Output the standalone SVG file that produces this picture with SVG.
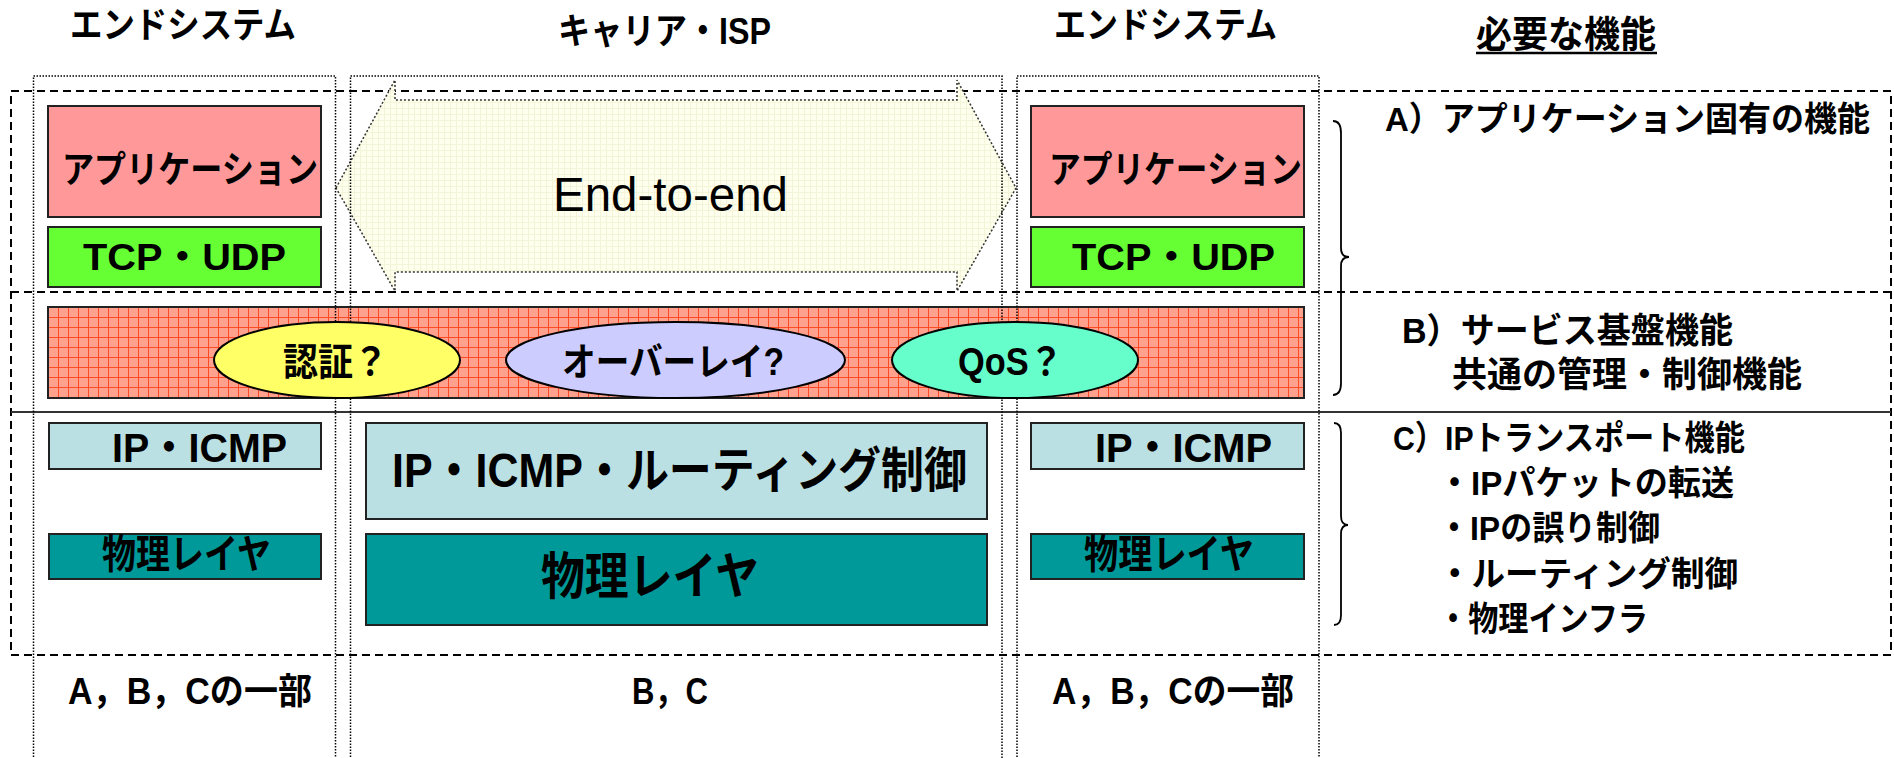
<svg xmlns="http://www.w3.org/2000/svg" width="1894" height="758" viewBox="0 0 1894 758">
<style>
.t{font-family:"Liberation Sans","Noto Sans CJK JP",sans-serif;font-weight:bold;fill:#000;dominant-baseline:central}
.n{font-family:"Liberation Sans","Noto Sans CJK JP",sans-serif;fill:#000;dominant-baseline:central}
.box{stroke:#222;stroke-width:2}
.dash{fill:none;stroke:#000;stroke-width:2;stroke-dasharray:8 5}
.dot{fill:none;stroke:#000;stroke-width:1.5;stroke-dasharray:1.5 1.5}
.ell{stroke:#000;stroke-width:2}
.brace{fill:none;stroke:#000;stroke-width:1.8}
</style>
<defs>
<pattern id="grid" width="10" height="10" patternUnits="userSpaceOnUse" x="48" y="307">
<rect width="10" height="10" fill="#FFA18C"/>
<path d="M0 0.5H10M0.5 0V10" stroke="#FF4A26" stroke-width="1" fill="none"/>
</pattern>
<pattern id="ygrid" width="6" height="6" patternUnits="userSpaceOnUse">
<rect width="6" height="6" fill="#FFFFEE"/>
<path d="M0 0.5H6M0.5 0V6" stroke="#F4F4D8" stroke-width="1" fill="none"/>
</pattern>
</defs>
<rect width="1894" height="758" fill="#fff"/>

<g id="headers">
<text class="t" x="70" y="25" font-size="36" textLength="226" lengthAdjust="spacingAndGlyphs">エンドシステム</text>
<text class="t" x="558" y="31" font-size="36" textLength="213" lengthAdjust="spacingAndGlyphs">キャリア・ISP</text>
<text class="t" x="1054" y="25" font-size="36" textLength="223" lengthAdjust="spacingAndGlyphs">エンドシステム</text>
<text class="t" x="1476" y="35" font-size="37" textLength="180" lengthAdjust="spacingAndGlyphs">必要な機能</text>
<line x1="1476" y1="53" x2="1657" y2="53" stroke="#000" stroke-width="2.5"/>
</g>

<g id="frame">
<rect class="dash" x="11" y="91" width="1880" height="564"/>
<line class="dash" x1="11" y1="292" x2="1891" y2="292"/>
<line x1="11" y1="412" x2="1891" y2="412" stroke="#333" stroke-width="2"/>
</g>

<g id="end-to-end">
<polygon points="336,188 395,80 395,100 957,100 957,80 1016,188 957,291 957,272 395,272 395,291" fill="url(#ygrid)" stroke="#333" stroke-width="1.5" stroke-dasharray="2 2"/>
<text class="n" x="553" y="194" font-size="48" textLength="235" lengthAdjust="spacingAndGlyphs">End-to-end</text>
</g>

<g id="left-app">
<rect class="box" x="48" y="106" width="273" height="111" fill="#FF9999"/>
<text class="t" x="62" y="170" font-size="37" textLength="256" lengthAdjust="spacingAndGlyphs">アプリケーション</text>
</g>
<g id="left-tcp">
<rect class="box" x="48" y="227" width="273" height="60" fill="#66FF33"/>
<text class="t" x="83" y="257" font-size="37" textLength="203" lengthAdjust="spacingAndGlyphs">TCP・UDP</text>
</g>
<g id="right-app">
<rect class="box" x="1031" y="106" width="273" height="111" fill="#FF9999"/>
<text class="t" x="1049" y="170" font-size="37" textLength="253" lengthAdjust="spacingAndGlyphs">アプリケーション</text>
</g>
<g id="right-tcp">
<rect class="box" x="1031" y="227" width="273" height="60" fill="#66FF33"/>
<text class="t" x="1072" y="257" font-size="37" textLength="203" lengthAdjust="spacingAndGlyphs">TCP・UDP</text>
</g>

<g id="service-band">
<rect class="box" x="48" y="307" width="1256" height="91" fill="url(#grid)"/>
</g>

<g id="columns">
<path class="dot" d="M33.5 760V76H335.5V760"/>
<path class="dot" d="M350.5 760V76H1002V760"/>
<path class="dot" d="M1017 760V76H1319V760"/>
</g>

<g id="auth">
<ellipse class="ell" cx="337" cy="360" rx="123" ry="38" fill="#FFFF66"/>
<text class="t" x="283" y="362" font-size="38" textLength="105" lengthAdjust="spacingAndGlyphs">認証？</text>
</g>
<g id="overlay">
<ellipse class="ell" cx="675.5" cy="360" rx="169.5" ry="38" fill="#CCCCFF"/>
<text class="t" x="562" y="362" font-size="38" textLength="222" lengthAdjust="spacingAndGlyphs">オーバーレイ?</text>
</g>
<g id="qos">
<ellipse class="ell" cx="1015" cy="360" rx="123" ry="38" fill="#66FFCC"/>
<text class="t" x="958" y="362" font-size="38" textLength="105" lengthAdjust="spacingAndGlyphs">QoS？</text>
</g>

<g id="left-ip">
<rect class="box" x="49" y="423" width="272" height="46" fill="#BBE0E3"/>
<text class="t" x="112" y="448" font-size="41" textLength="175" lengthAdjust="spacingAndGlyphs">IP・ICMP</text>
</g>
<g id="left-phy">
<rect class="box" x="49" y="534" width="272" height="45" fill="#009999"/>
<text class="t" x="102" y="554" font-size="40" textLength="169" lengthAdjust="spacingAndGlyphs">物理レイヤ</text>
</g>
<g id="mid-ip">
<rect class="box" x="366" y="423" width="621" height="96" fill="#BBE0E3"/>
<text class="t" x="392" y="470" font-size="48" textLength="575" lengthAdjust="spacingAndGlyphs">IP・ICMP・ルーティング制御</text>
</g>
<g id="mid-phy">
<rect class="box" x="366" y="534" width="621" height="91" fill="#009999"/>
<text class="t" x="541" y="577" font-size="50" textLength="218" lengthAdjust="spacingAndGlyphs">物理レイヤ</text>
</g>
<g id="right-ip">
<rect class="box" x="1031" y="423" width="273" height="46" fill="#BBE0E3"/>
<text class="t" x="1095" y="448" font-size="41" textLength="177" lengthAdjust="spacingAndGlyphs">IP・ICMP</text>
</g>
<g id="right-phy">
<rect class="box" x="1031" y="534" width="273" height="45" fill="#009999"/>
<text class="t" x="1084" y="554" font-size="40" textLength="170" lengthAdjust="spacingAndGlyphs">物理レイヤ</text>
</g>

<g id="braces">
<path class="brace" d="M1333 121Q1341 121 1341 133V248Q1341 257 1349 257Q1341 257 1341 266V383Q1341 395 1333 395"/>
<path class="brace" d="M1334 423Q1341 423 1341 433V516Q1341 525 1348 525Q1341 525 1341 534V615Q1341 625 1334 625"/>
</g>

<g id="functions">
<text class="t" x="1385" y="119" font-size="34" textLength="485" lengthAdjust="spacingAndGlyphs">A）アプリケーション固有の機能</text>
<text class="t" x="1402" y="330" font-size="35" textLength="331" lengthAdjust="spacingAndGlyphs">B）サービス基盤機能</text>
<text class="t" x="1452" y="374" font-size="35" textLength="350" lengthAdjust="spacingAndGlyphs">共通の管理・制御機能</text>
<text class="t" x="1393" y="438" font-size="34" textLength="352" lengthAdjust="spacingAndGlyphs">C）IPトランスポート機能</text>
<text class="t" x="1438" y="483" font-size="34" textLength="296" lengthAdjust="spacingAndGlyphs">・IPパケットの転送</text>
<text class="t" x="1438" y="528" font-size="34" textLength="222" lengthAdjust="spacingAndGlyphs">・IPの誤り制御</text>
<text class="t" x="1438" y="574" font-size="34" textLength="300" lengthAdjust="spacingAndGlyphs">・ルーティング制御</text>
<text class="t" x="1438" y="619" font-size="34" textLength="210" lengthAdjust="spacingAndGlyphs">・物理インフラ</text>
</g>

<g id="bottom-labels">
<text class="t" x="68" y="691" font-size="36" textLength="244" lengthAdjust="spacingAndGlyphs">A，B，Cの一部</text>
<text class="t" x="632" y="691" font-size="36" textLength="76" lengthAdjust="spacingAndGlyphs">B，C</text>
<text class="t" x="1052" y="691" font-size="36" textLength="242" lengthAdjust="spacingAndGlyphs">A，B，Cの一部</text>
</g>
</svg>
